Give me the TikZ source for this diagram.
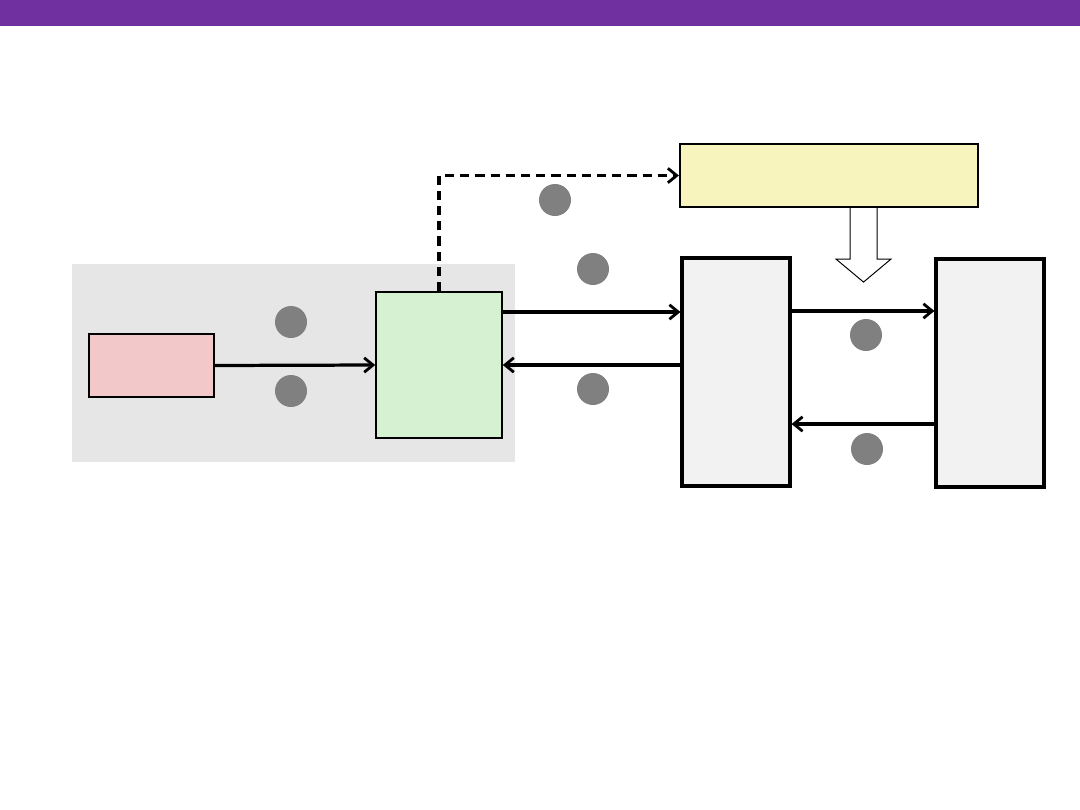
\documentclass[tikz,border=0pt]{standalone}
\usepackage{xcolor}
\definecolor{banner}{HTML}{7030A0}
\definecolor{panel}{HTML}{E6E6E6}
\definecolor{rose}{HTML}{F2C8C8}
\definecolor{mint}{HTML}{D6F0D2}
\definecolor{cream}{HTML}{F7F4BD}
\definecolor{paper}{HTML}{F2F2F2}
\definecolor{dot}{HTML}{808080}
\usepackage{tikz}
\usetikzlibrary{
  arrows.meta,
  positioning,
  calc
}

\begin{document}
\begin{tikzpicture}[
  x=0.025cm, y=-0.025cm,
  thinbox/.style={rectangle, draw=black, line width=1.1pt, inner sep=0pt},
  thickbox/.style={rectangle, draw=black, line width=2.2pt, fill=paper, inner sep=0pt, minimum width=2.7cm, minimum height=5.7cm},
  marker/.style={circle, fill=dot, inner sep=0pt, minimum size=0.8cm},
  arr/.style={-{Straight Barb[length=2.2mm, width=3.6mm, line width=2pt]}, line width=2.3pt, black},
  dasharr/.style={arr, dash pattern=on 2.3mm off 1.5mm},
  blockarr/.style={draw=black, line width=0.7pt, fill=white},
]
\useasboundingbox (0,0) rectangle (1080,810);

% background
\fill[banner] (0,0) rectangle (1080,26);
\node[rectangle, fill=panel, minimum width=11.075cm, minimum height=4.95cm, inner sep=0pt] (client) at (293.5,363) {};

% boxes
\node[thinbox, fill=rose, minimum width=3.125cm, minimum height=1.575cm] (src) at (151.5,365.5) {};
\node[thinbox, fill=mint, minimum width=3.15cm, minimum height=3.65cm] (proxy) at (439,365) {};
\node[thinbox, fill=cream, line width=1.5pt, minimum width=7.45cm, minimum height=1.575cm] (config) at (829,175.5) {};
\node[thickbox] (server) at (736,372) {};
\node[thickbox] (backend) at (990,373) {};

% markers
\node[marker] (m1) at (291,322) {};
\node[marker] (m2) at (291,391) {};
\node[marker] (m3) at (555,200) {};
\node[marker] (m4) at (593,269) {};
\node[marker] (m5) at (593,389) {};
\node[marker] (m6) at (866,335) {};
\node[marker] (m7) at (867,449) {};

% connectors
\draw[arr] (src.east) -- (proxy.west);
\draw[arr] ([yshift=1.325cm]proxy.east) -- ([yshift=1.325cm]proxy.east -| server.west);
\draw[arr] (server.west |- proxy.east) -- (proxy.east);
\draw[arr] ([yshift=1.525cm]server.east) -- ([yshift=1.525cm]server.east -| backend.west);
\draw[arr] ([yshift=-1.275cm]backend.west) -- ([yshift=-1.275cm]backend.west -| server.east);
\draw[dasharr] (proxy.north) |- (config.west);

% block arrow
\draw[blockarr] ([xshift=0.8625cm]config.south) ++(-13.5,0) -- ++(0,51) -- ++(-14,0)
  -- ++(27.5,23) -- ++(27.5,-23) -- ++(-14,0) -- ++(0,-51);

\end{tikzpicture}
\end{document}
